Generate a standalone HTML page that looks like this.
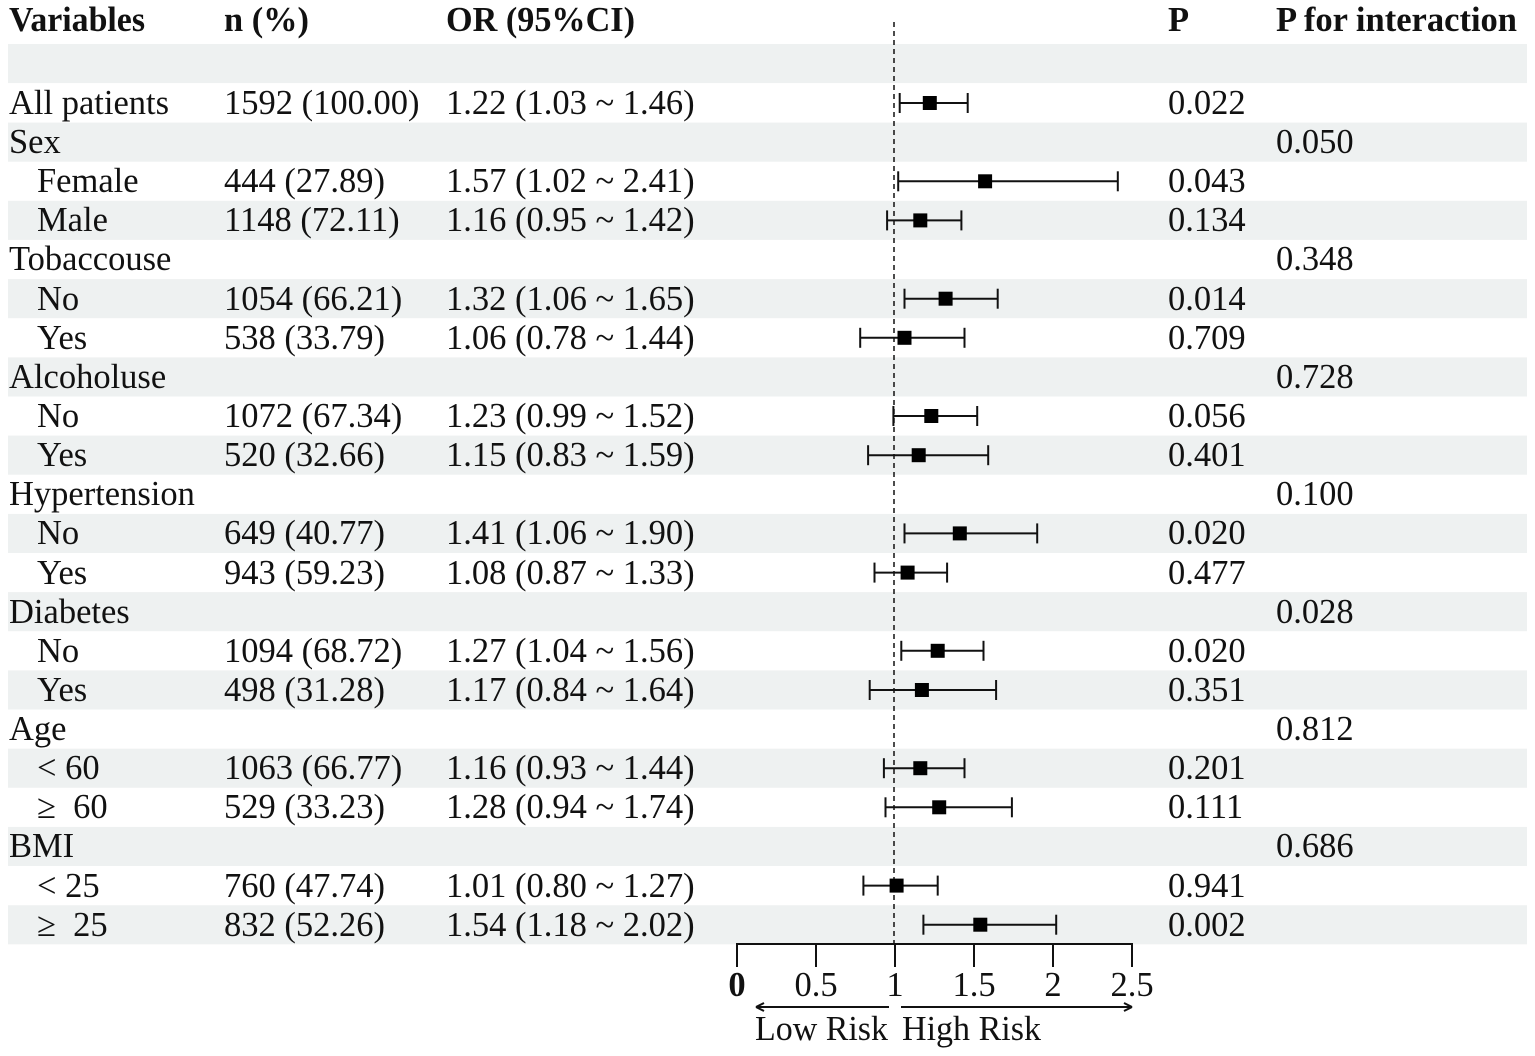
<!DOCTYPE html>
<html><head><meta charset="utf-8"><style>
html,body{margin:0;padding:0;background:#fff;}
svg{display:block;}
text{font-family:"Liberation Serif",serif;font-size:34.5px;fill:#111;}
.b{font-weight:bold;font-size:33px;}
.ci line{stroke:#111;stroke-width:2;}
</style></head><body>
<svg width="1535" height="1056" viewBox="0 0 1535 1056" xmlns="http://www.w3.org/2000/svg">
<g fill="#eef1f1">
<rect x="8" y="44" width="1519" height="39.1"/>
<rect x="8" y="122.6" width="1519" height="39.1"/>
<rect x="8" y="200.8" width="1519" height="39.1"/>
<rect x="8" y="279.1" width="1519" height="39.1"/>
<rect x="8" y="357.4" width="1519" height="39.1"/>
<rect x="8" y="435.6" width="1519" height="39.1"/>
<rect x="8" y="513.9" width="1519" height="39.1"/>
<rect x="8" y="592.1" width="1519" height="39.1"/>
<rect x="8" y="670.4" width="1519" height="39.1"/>
<rect x="8" y="748.7" width="1519" height="39.1"/>
<rect x="8" y="826.9" width="1519" height="39.1"/>
<rect x="8" y="905.2" width="1519" height="39.1"/>
</g>
<g class="b">
<text x="9" y="31" textLength="136" lengthAdjust="spacingAndGlyphs">Variables</text>
<text x="224" y="31" textLength="85" lengthAdjust="spacingAndGlyphs">n (%)</text>
<text x="446" y="31" textLength="189" lengthAdjust="spacingAndGlyphs">OR (95%CI)</text>
<text x="1168" y="31">P</text>
<text x="1276" y="31" textLength="241" lengthAdjust="spacingAndGlyphs">P for interaction</text>
</g>
<line x1="894" y1="22" x2="894" y2="944" stroke="#111" stroke-width="1.5" stroke-dasharray="5,4"/>
<g>
<text x="9" y="114">All patients</text><text x="224" y="114">1592 (100.00)</text><text x="446" y="114">1.22 (1.03 ~ 1.46)</text><text x="1168" y="114">0.022</text>
<text x="9" y="153">Sex</text><text x="1276" y="153">0.050</text>
<text x="37" y="192">Female</text><text x="224" y="192">444 (27.89)</text><text x="446" y="192">1.57 (1.02 ~ 2.41)</text><text x="1168" y="192">0.043</text>
<text x="37" y="231">Male</text><text x="224" y="231">1148 (72.11)</text><text x="446" y="231">1.16 (0.95 ~ 1.42)</text><text x="1168" y="231">0.134</text>
<text x="9" y="270">Tobaccouse</text><text x="1276" y="270">0.348</text>
<text x="37" y="310">No</text><text x="224" y="310">1054 (66.21)</text><text x="446" y="310">1.32 (1.06 ~ 1.65)</text><text x="1168" y="310">0.014</text>
<text x="37" y="349">Yes</text><text x="224" y="349">538 (33.79)</text><text x="446" y="349">1.06 (0.78 ~ 1.44)</text><text x="1168" y="349">0.709</text>
<text x="9" y="388">Alcoholuse</text><text x="1276" y="388">0.728</text>
<text x="37" y="427">No</text><text x="224" y="427">1072 (67.34)</text><text x="446" y="427">1.23 (0.99 ~ 1.52)</text><text x="1168" y="427">0.056</text>
<text x="37" y="466">Yes</text><text x="224" y="466">520 (32.66)</text><text x="446" y="466">1.15 (0.83 ~ 1.59)</text><text x="1168" y="466">0.401</text>
<text x="9" y="505">Hypertension</text><text x="1276" y="505">0.100</text>
<text x="37" y="544">No</text><text x="224" y="544">649 (40.77)</text><text x="446" y="544">1.41 (1.06 ~ 1.90)</text><text x="1168" y="544">0.020</text>
<text x="37" y="584">Yes</text><text x="224" y="584">943 (59.23)</text><text x="446" y="584">1.08 (0.87 ~ 1.33)</text><text x="1168" y="584">0.477</text>
<text x="9" y="623">Diabetes</text><text x="1276" y="623">0.028</text>
<text x="37" y="662">No</text><text x="224" y="662">1094 (68.72)</text><text x="446" y="662">1.27 (1.04 ~ 1.56)</text><text x="1168" y="662">0.020</text>
<text x="37" y="701">Yes</text><text x="224" y="701">498 (31.28)</text><text x="446" y="701">1.17 (0.84 ~ 1.64)</text><text x="1168" y="701">0.351</text>
<text x="9" y="740">Age</text><text x="1276" y="740">0.812</text>
<text x="37" y="779">&lt; 60</text><text x="224" y="779">1063 (66.77)</text><text x="446" y="779">1.16 (0.93 ~ 1.44)</text><text x="1168" y="779">0.201</text>
<text x="37" y="818">≥&#160;&#160;60</text><text x="224" y="818">529 (33.23)</text><text x="446" y="818">1.28 (0.94 ~ 1.74)</text><text x="1168" y="818">0.111</text>
<text x="9" y="857">BMI</text><text x="1276" y="857">0.686</text>
<text x="37" y="897">&lt; 25</text><text x="224" y="897">760 (47.74)</text><text x="446" y="897">1.01 (0.80 ~ 1.27)</text><text x="1168" y="897">0.941</text>
<text x="37" y="936">≥&#160;&#160;25</text><text x="224" y="936">832 (52.26)</text><text x="446" y="936">1.54 (1.18 ~ 2.02)</text><text x="1168" y="936">0.002</text>
</g>
<g class="ci">
<line x1="899.7" y1="103" x2="967.7" y2="103"/><line x1="899.7" y1="93" x2="899.7" y2="113"/><line x1="967.7" y1="93" x2="967.7" y2="113"/>
<line x1="898.2" y1="181.3" x2="1117.8" y2="181.3"/><line x1="898.2" y1="171.3" x2="898.2" y2="191.3"/><line x1="1117.8" y1="171.3" x2="1117.8" y2="191.3"/>
<line x1="887.1" y1="220.4" x2="961.4" y2="220.4"/><line x1="887.1" y1="210.4" x2="887.1" y2="230.4"/><line x1="961.4" y1="210.4" x2="961.4" y2="230.4"/>
<line x1="904.5" y1="298.7" x2="997.7" y2="298.7"/><line x1="904.5" y1="288.7" x2="904.5" y2="308.7"/><line x1="997.7" y1="288.7" x2="997.7" y2="308.7"/>
<line x1="860.2" y1="337.8" x2="964.5" y2="337.8"/><line x1="860.2" y1="327.8" x2="860.2" y2="347.8"/><line x1="964.5" y1="327.8" x2="964.5" y2="347.8"/>
<line x1="893.4" y1="416" x2="977.2" y2="416"/><line x1="893.4" y1="406" x2="893.4" y2="426"/><line x1="977.2" y1="406" x2="977.2" y2="426"/>
<line x1="868.1" y1="455.2" x2="988.2" y2="455.2"/><line x1="868.1" y1="445.2" x2="868.1" y2="465.2"/><line x1="988.2" y1="445.2" x2="988.2" y2="465.2"/>
<line x1="904.5" y1="533.4" x2="1037.2" y2="533.4"/><line x1="904.5" y1="523.4" x2="904.5" y2="543.4"/><line x1="1037.2" y1="523.4" x2="1037.2" y2="543.4"/>
<line x1="874.5" y1="572.6" x2="947.1" y2="572.6"/><line x1="874.5" y1="562.6" x2="874.5" y2="582.6"/><line x1="947.1" y1="562.6" x2="947.1" y2="582.6"/>
<line x1="901.3" y1="650.8" x2="983.5" y2="650.8"/><line x1="901.3" y1="640.8" x2="901.3" y2="660.8"/><line x1="983.5" y1="640.8" x2="983.5" y2="660.8"/>
<line x1="869.7" y1="690" x2="996.1" y2="690"/><line x1="869.7" y1="680" x2="869.7" y2="700"/><line x1="996.1" y1="680" x2="996.1" y2="700"/>
<line x1="883.9" y1="768.2" x2="964.5" y2="768.2"/><line x1="883.9" y1="758.2" x2="883.9" y2="778.2"/><line x1="964.5" y1="758.2" x2="964.5" y2="778.2"/>
<line x1="885.5" y1="807.3" x2="1011.9" y2="807.3"/><line x1="885.5" y1="797.3" x2="885.5" y2="817.3"/><line x1="1011.9" y1="797.3" x2="1011.9" y2="817.3"/>
<line x1="863.4" y1="885.6" x2="937.7" y2="885.6"/><line x1="863.4" y1="875.6" x2="863.4" y2="895.6"/><line x1="937.7" y1="875.6" x2="937.7" y2="895.6"/>
<line x1="923.4" y1="924.7" x2="1056.2" y2="924.7"/><line x1="923.4" y1="914.7" x2="923.4" y2="934.7"/><line x1="1056.2" y1="914.7" x2="1056.2" y2="934.7"/>
</g>
<g fill="#000">
<rect x="922.8" y="96" width="14" height="14"/>
<rect x="978.1" y="174.3" width="14" height="14"/>
<rect x="913.3" y="213.4" width="14" height="14"/>
<rect x="938.6" y="291.7" width="14" height="14"/>
<rect x="897.5" y="330.8" width="14" height="14"/>
<rect x="924.3" y="409" width="14" height="14"/>
<rect x="911.7" y="448.2" width="14" height="14"/>
<rect x="952.8" y="526.4" width="14" height="14"/>
<rect x="900.6" y="565.6" width="14" height="14"/>
<rect x="930.7" y="643.8" width="14" height="14"/>
<rect x="914.9" y="683" width="14" height="14"/>
<rect x="913.3" y="761.2" width="14" height="14"/>
<rect x="932.2" y="800.3" width="14" height="14"/>
<rect x="889.6" y="878.6" width="14" height="14"/>
<rect x="973.3" y="917.7" width="14" height="14"/>
</g>
<g stroke="#111" stroke-width="2">
<line x1="737" y1="944" x2="1132" y2="944"/>
<line x1="737" y1="943" x2="737" y2="967"/>
<line x1="816" y1="943" x2="816" y2="967"/>
<line x1="895" y1="943" x2="895" y2="967"/>
<line x1="974" y1="943" x2="974" y2="967"/>
<line x1="1053" y1="943" x2="1053" y2="967"/>
<line x1="1132" y1="943" x2="1132" y2="967"/>
<line x1="756" y1="1007" x2="889" y2="1007"/>
<line x1="901" y1="1007" x2="1132" y2="1007"/>
</g>
<path d="M756 1007 l8 -4 M756 1007 l8 4 M1132 1007 l-8 -4 M1132 1007 l-8 4" stroke="#111" stroke-width="2" fill="none"/>
<g text-anchor="middle">
<text x="737" y="996" class="b" style="font-size:34.5px">0</text>
<text x="816" y="996">0.5</text>
<text x="895" y="996">1</text>
<text x="974" y="996">1.5</text>
<text x="1053" y="996">2</text>
<text x="1132" y="996">2.5</text>
</g>
<text x="755" y="1040" textLength="133" lengthAdjust="spacingAndGlyphs">Low Risk</text>
<text x="902" y="1040" textLength="139" lengthAdjust="spacingAndGlyphs">High Risk</text>
</svg>
</body></html>
